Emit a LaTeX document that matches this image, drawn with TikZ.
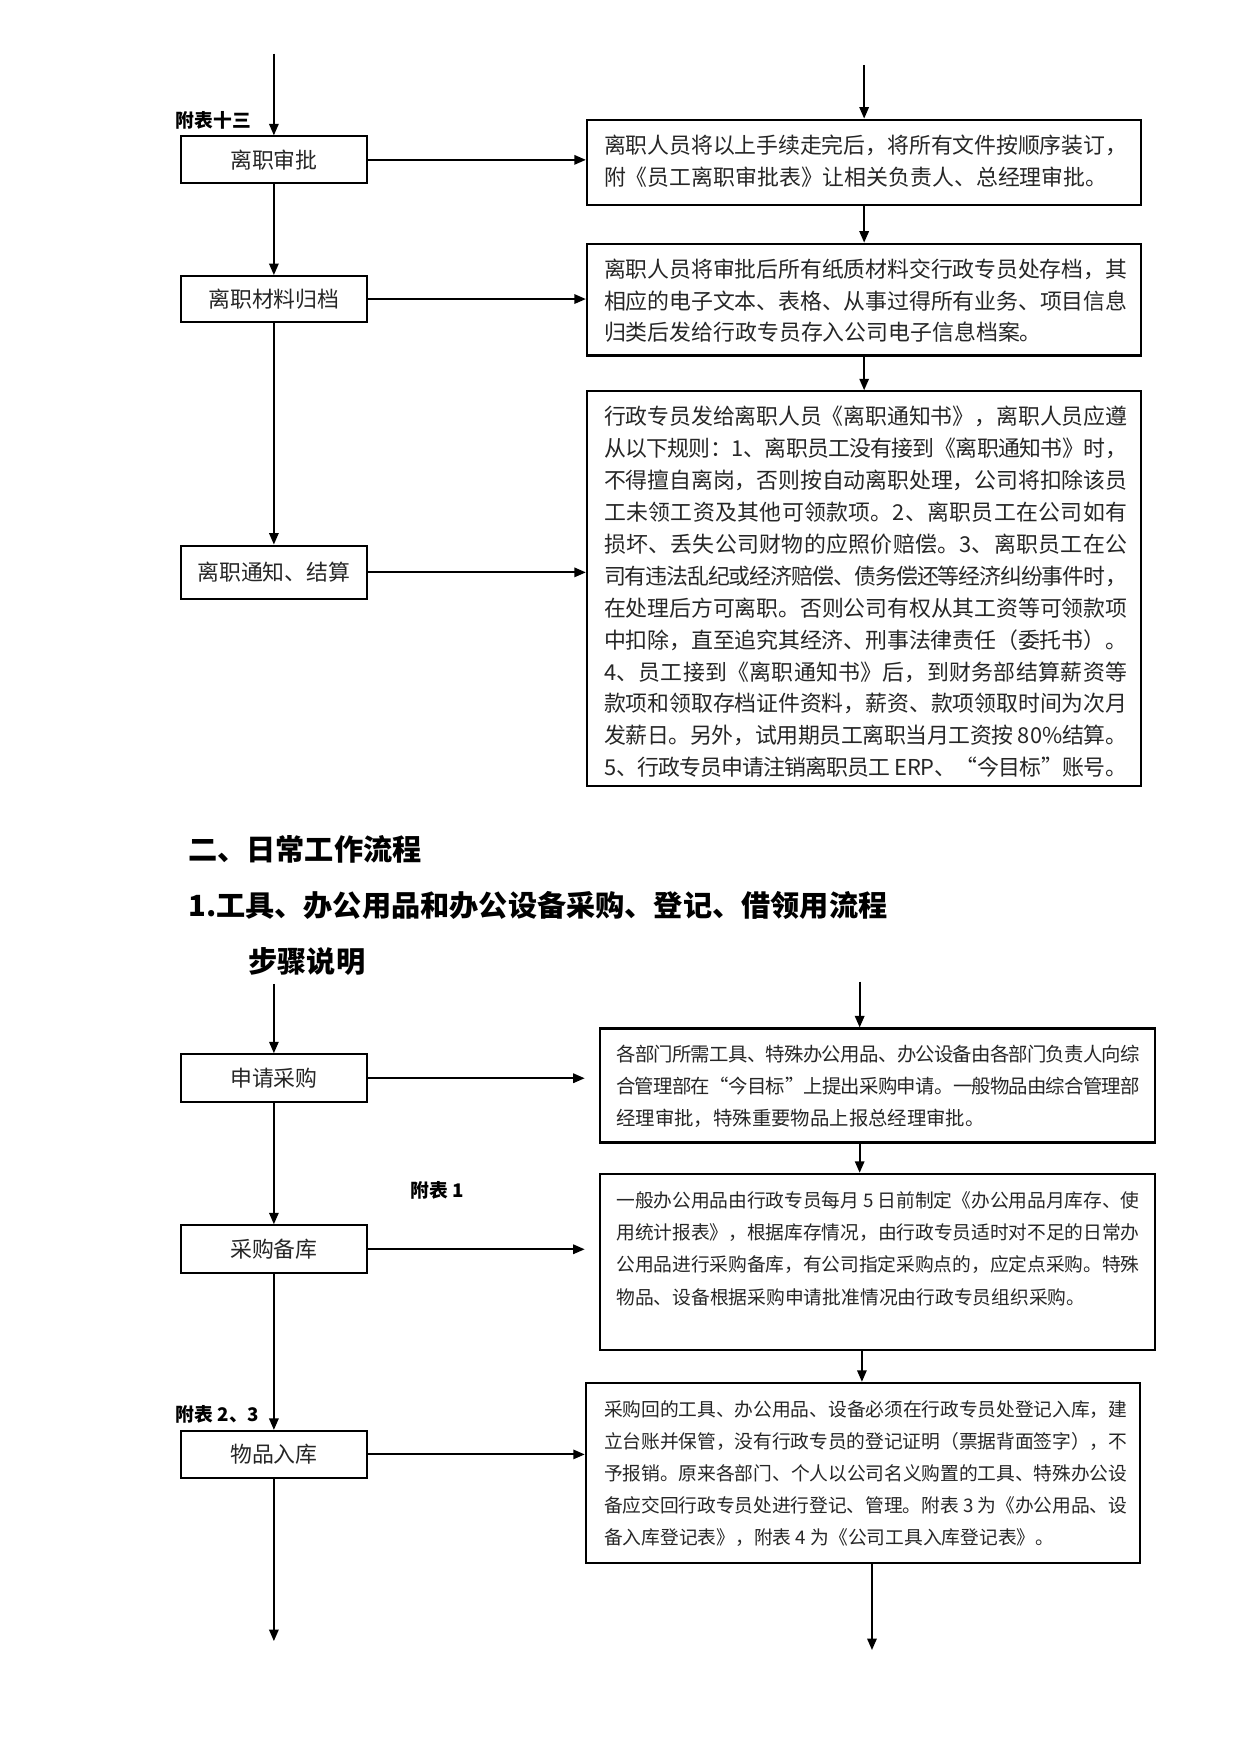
\documentclass[tikz,border=0pt]{standalone}
\usepackage{fontspec}
\setmainfont{Noto Sans CJK SC}
\usetikzlibrary{arrows.meta,fit,calc}
\XeTeXlinebreaklocale "zh"
\XeTeXlinebreakskip=0pt plus 1.5pt minus 0.8pt
\parindent=0pt
\begin{document}
\begin{tikzpicture}[x=0.5363pt,y=-0.5363pt,
  lbox/.style={draw,line width=1pt,minimum width=89pt,inner sep=0pt,
    font=\fontsize{10.5}{12}\selectfont,text=black!85},
  rbox/.style={draw,line width=1pt,inner sep=0pt},
  toptxt/.style={anchor=west,inner sep=0pt,text width=251pt,align=justify,
    font=\fontsize{10.5}{15.3}\selectfont,text=black!85},
  bottxt/.style={anchor=west,inner sep=0pt,text width=251pt,align=justify,
    font=\fontsize{9}{15.4}\selectfont,text=black!85},
  fubiao/.style={anchor=west,inner sep=0pt,font=\fontsize{9}{11}\selectfont\bfseries},
  head/.style={anchor=west,inner sep=0pt,font=\fontsize{14}{16}\selectfont\bfseries},
  arr/.style={line width=0.9pt,-{Triangle[length=5.5pt,width=4.5pt]}},
  ln/.style={line width=0.9pt}]
\useasboundingbox (0,0) rectangle (1110,1569);

% ---------- top section ----------
\node[fubiao] (fb13) at (157,108) {附表十三};
\node[lbox,minimum height=22.5pt] (l1) at (245,143) {离职审批};
\node[lbox,minimum height=22pt] (l2) at (245,267.5) {离职材料归档};
\node[lbox,minimum height=25.7pt] (l3) at (245,512) {离职通知、结算};

\node[rbox,fit={(525,107) (1021,183)}] (r1) {};
\node[rbox,fit={(525,218) (1021,318)}] (r2) {};
\node[rbox,fit={(525,350) (1021,703)}] (r3) {};

\node[toptxt] (t1) at (540,144) {离职人员将以上手续走完后，将所有文件按顺序装订，\linebreak
附《员工离职审批表》让相关负责人、总经理审批。};
\node[toptxt] (t2) at (540,269) {离职人员将审批后所有纸质材料交行政专员处存档，其\linebreak
相应的电子文本、表格、从事过得所有业务、项目信息\linebreak
归类后发给行政专员存入公司电子信息档案。};
\node[toptxt] (t3) at (540,529.5) {行政专员发给离职人员《离职通知书》，离职人员应遵\linebreak
从以下规则：1、离职员工没有接到《离职通知书》时，\linebreak
不得擅自离岗，否则按自动离职处理，公司将扣除该员\linebreak
工未领工资及其他可领款项。2、离职员工在公司如有\linebreak
损坏、丢失公司财物的应照价赔偿。3、离职员工在公\linebreak
司有违法乱纪或经济赔偿、债务偿还等经济纠纷事件时，\linebreak
在处理后方可离职。否则公司有权从其工资等可领款项\linebreak
中扣除，直至追究其经济、刑事法律责任（委托书）。\linebreak
4、员工接到《离职通知书》后，到财务部结算薪资等\linebreak
款项和领取存档证件资料，薪资、款项领取时间为次月\linebreak
发薪日。另外，试用期员工离职当月工资按 80\%结算。\linebreak
5、行政专员申请注销离职员工 ERP、“今目标”账号。};

\coordinate (tl) at (245,48);
\coordinate (tr) at (773,58);
\draw[arr] (tl) -- (l1.north);
\draw[arr] (l1.south) -- (l2.north);
\draw[arr] (l2.south) -- (l3.north);
\draw[arr] (l1.east) -- (l1.east -| r1.west);
\draw[arr] (l2.east) -- (l2.east -| r2.west);
\draw[arr] (l3.east) -- (l3.east -| r3.west);
\draw[arr] (tr) -- (r1.north);
\draw[arr] (r1.south) -- (r2.north);
\draw[arr] (r2.south) -- (r3.north);

% ---------- headings ----------
\node[head] (h1) at (168,760) {二、日常工作流程};
\node[head] (h2) at (168,810) {1.工具、办公用品和办公设备采购、登记、借领用流程};
\node[head] (h3) at (222,860) {步骤说明};

% ---------- bottom section ----------
\node[lbox,minimum height=23pt] (l4) at (245,964.5) {申请采购};
\node[lbox,minimum height=23pt] (l5) at (245,1117.5) {采购备库};
\node[lbox,minimum height=22.5pt] (l6) at (245,1301) {物品入库};
\node[fubiao] (fb1) at (367,1065) {附表 1};
\node[fubiao] (fb23) at (157,1265) {附表 2、3};

\node[rbox,fit={(537,920) (1033,1022)}] (r4) {};
\node[rbox,fit={(537,1050) (1033,1208)}] (r5) {};
\node[rbox,fit={(524,1237) (1020,1398)}] (r6) {};

\node[bottxt,font=\fontsize{9.3}{15.4}\selectfont] (t4) at (551,971.5) {各部门所需工具、特殊办公用品、办公设备由各部门负责人向综\linebreak
合管理部在“今目标”上提出采购申请。一般物品由综合管理部\linebreak
经理审批，特殊重要物品上报总经理审批。};
\node[bottxt] (t5) at (551,1117) {一般办公用品由行政专员每月 5 日前制定《办公用品月库存、使\linebreak
用统计报表》，根据库存情况，由行政专员适时对不足的日常办\linebreak
公用品进行采购备库，有公司指定采购点的，应定点采购。特殊\linebreak
物品、设备根据采购申请批准情况由行政专员组织采购。};
\node[bottxt] (t6) at (540,1318) {采购回的工具、办公用品、设备必须在行政专员处登记入库，建\linebreak
立台账并保管，没有行政专员的登记证明（票据背面签字），不\linebreak
予报销。原来各部门、个人以公司名义购置的工具、特殊办公设\linebreak
备应交回行政专员处进行登记、管理。附表 3 为《办公用品、设\linebreak
备入库登记表》，附表 4 为《公司工具入库登记表》。};

\coordinate (bl) at (245,880);
\coordinate (el) at (245,1468);
\coordinate (br) at (769,878);
\coordinate (xr) at (769,0);
\coordinate (xs) at (771,0);
\coordinate (er) at (780,1476);
\draw[arr] (bl) -- (l4.north);
\draw[arr] (l4.south) -- (l5.north);
\draw[arr] (l5.south) -- (l6.north);
\draw[arr] (l6.south) -- (el);
\draw[arr,shorten >=7pt] (l4.east) -- (l4.east -| r4.west);
\draw[arr,shorten >=7pt] (l5.east) -- (l5.east -| r5.west);
\draw[arr] (l6.east) -- (l6.east -| r6.west);
\draw[arr] (br) -- (br |- r4.north);
\draw[arr] (r4.south -| xr) -- (r5.north -| xr);
\draw[arr] (r5.south -| xs) -- (r6.north -| xs);
\draw[arr] (r6.south -| er) -- (er);
\end{tikzpicture}
\end{document}
